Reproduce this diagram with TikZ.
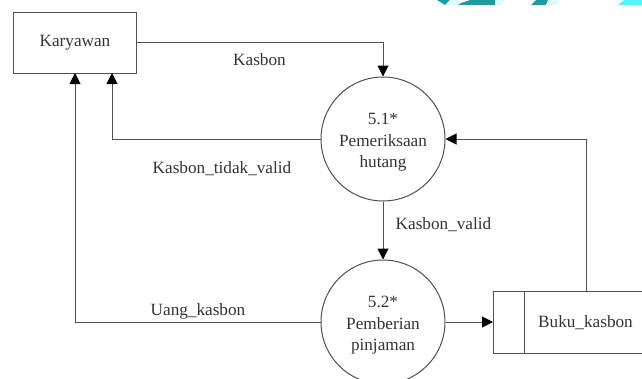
\documentclass[tikz,border=0pt]{standalone}
\usepackage{fontspec}
\setmainfont{Liberation Serif}
\usetikzlibrary{arrows.meta}
\definecolor{tealdark}{HTML}{1F9AA0}
\definecolor{tealpale}{HTML}{DDFBFC}
\definecolor{tealbright}{HTML}{5CF0F4}
\definecolor{linegray}{HTML}{505050}
\tikzset{proc/.style={shape=circle,draw=linegray,minimum size=124pt,inner sep=0pt,align=center,
                      font=\fontsize{17.2pt}{21.5pt}\selectfont,text=black!80},
         lbl/.style={font=\fontsize{17.2pt}{21pt}\selectfont,text=black!80,inner sep=0pt}}

\begin{document}
\begin{tikzpicture}[x=1pt,y=-1pt,>={Triangle[length=11pt,width=11pt,fill=black,color=black]},line width=1pt,draw=linegray]

  \useasboundingbox (0,0) rectangle (642,378);
  \clip (0,0) rectangle (642,378);

  % strip at the top
  \fill[tealdark] (437,0) -- (450,0) -- (445,5) -- cycle;
  \fill[tealpale] (450,0) -- (460,0) -- (458,3) -- (462,5) -- (445,5) -- cycle;
  \fill[tealdark] (470,0) -- (495,0) -- (495,5) -- (458,5) -- (461,3) -- cycle;
  \fill[tealpale] (495,0) -- (505,0) -- (502,5) -- (495,5) -- cycle;
  \fill[tealdark] (536,0) -- (548,0) -- (546,5) -- (531,5) -- cycle;
  \fill[tealpale] (548,0) -- (559,0) -- (556,5) -- (546,5) -- cycle;
  \fill[tealbright] (624,0) -- (642,0) -- (642,5) -- (618,5) -- cycle;

  \node[draw=linegray,minimum width=123pt,minimum height=61pt,inner sep=0pt,lbl] (karyawan) at (75,42.5) {Karyawan};

  \node[proc] (periksa) at (383,139) {\rule{0pt}{18pt}5.1*\\Pemeriksaan\\hutang};
  \node[proc] (pinjam) at (383,322) {\rule{0pt}{18pt}5.2*\\Pemberian\\pinjaman};

  % data store, open at the right
  \coordinate (storetl) at (493,291.5);
  \coordinate (storetr) at (650,291.5);
  \coordinate (storebr) at (650,353);
  \coordinate (storebl) at (493,353);
  \coordinate (storein) at (524,291.5);
  \coordinate (storeib) at (524,353);
  \coordinate (storel) at (493,322);
  \coordinate (storeout) at (586,291.5);
  \draw (storetr) -- (storetl) -- (storebl) -- (storebr);
  \draw (storein) -- (storeib);
  \node[lbl] (buku) at (585.5,323) {Buku\_kasbon};

  \draw[->] (karyawan.east) -| (periksa.north);
  \draw[->] (periksa.west) -| (112,73);
  \draw[->] (periksa.south) -- (pinjam.north);
  \draw[->] (pinjam.west) -| (75,73);
  \draw[->] (pinjam.east) -- (storel);
  \draw[->] (storeout) |- (periksa.east);

  \node[lbl] (kasbon) at (259.5,60) {Kasbon};
  \node[lbl] (tidak) at (222,169) {Kasbon\_tidak\_valid};
  \node[lbl] (valid) at (443.5,225) {Kasbon\_valid};
  \node[lbl] (uang) at (198,311.5) {Uang\_kasbon};
\end{tikzpicture}
\end{document}
